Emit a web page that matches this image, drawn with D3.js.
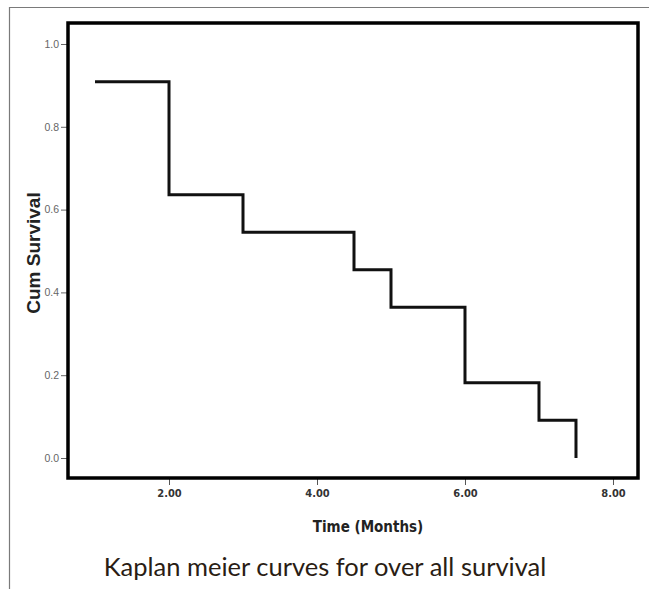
<!DOCTYPE html>
<html>
<head>
<meta charset="utf-8">
<script src="https://cdn.jsdelivr.net/npm/d3@7"></script>
<style>
  body { margin: 0; background: #fff; }
  svg { display: block; }
</style>
</head>
<body>
<div id="chart"></div>
<script>
// survival data
var times = [1, 2, 3, 4.5, 5, 6, 7, 7.5];
var survival = [0.909, 0.636, 0.545, 0.455, 0.364, 0.182, 0.091, 0];
var xTicks = [2, 4, 6, 8];
var yTicks = [0, 0.2, 0.4, 0.6, 0.8, 1.0];

var width = 649;
var height = 589;
var frame = {left: 68, top: 23, right: 638, bottom: 478};

var svg = d3.select('#chart').append('svg')
    .attr('width', width)
    .attr('height', height);

// thin outer border (left + top only)
svg.append('path')
    .attr('d', 'M9.5,589 L9.5,7.5 L649,7.5')
    .attr('fill', 'none')
    .attr('stroke', '#7a7a7a')
    .attr('stroke-width', 1.2);

var x = d3.scaleLinear()
    .domain([0.635, 8.338])
    .range([frame.left, frame.right]);

var y = d3.scaleLinear()
    .domain([-0.0483, 1.0507])
    .range([frame.bottom, frame.top]);

var xAxis = svg.append('g')
    .attr('transform', 'translate(0,' + frame.bottom + ')')
    .call(d3.axisBottom(x).tickValues(xTicks).tickFormat(d3.format('.2f')).tickSize(7).tickPadding(4));
xAxis.select('.domain').remove();
xAxis.selectAll('line').attr('stroke', '#555');
xAxis.selectAll('text')
    .attr('fill', '#333')
    .style('font-family', '"Liberation Sans Narrow", "DejaVu Sans Condensed", sans-serif')
    .style('font-weight', 'bold')
    .style('font-size', '11px');

var yAxis = svg.append('g')
    .attr('transform', 'translate(' + frame.left + ',0)')
    .call(d3.axisLeft(y).tickValues(yTicks).tickFormat(d3.format('.1f')).tickSize(7).tickPadding(2));
yAxis.select('.domain').remove();
yAxis.selectAll('line').attr('stroke', '#666');
yAxis.selectAll('text')
    .attr('fill', '#666')
    .style('font-family', '"Liberation Sans", Arial, sans-serif')
    .style('font-size', '10.5px');

// step curve
var pts = times.map(function(t, i) { return [t, survival[i]]; });
pts.push([times[times.length - 1], 0]);
var line = d3.line()
    .x(function(d) { return x(d[0]); })
    .y(function(d) { return y(d[1]); })
    .curve(d3.curveStepAfter);

svg.append('path')
    .datum(pts)
    .attr('d', line)
    .attr('fill', 'none')
    .attr('stroke', '#111')
    .attr('stroke-width', 3);

// plot frame
svg.append('rect')
    .attr('x', frame.left)
    .attr('y', frame.top)
    .attr('width', frame.right - frame.left)
    .attr('height', frame.bottom - frame.top)
    .attr('fill', 'none')
    .attr('stroke', '#000')
    .attr('stroke-width', 3.5);

svg.append('text')
    .attr('transform', 'translate(40,253) rotate(-90)')
    .attr('text-anchor', 'middle')
    .style('font-family', '"Liberation Sans", Arial, sans-serif')
    .style('font-weight', 'bold')
    .style('font-size', '19px')
    .attr('fill', '#222')
    .text('Cum Survival');

svg.append('text')
    .attr('x', 368)
    .attr('y', 532)
    .attr('text-anchor', 'middle')
    .style('font-family', '"Liberation Sans Narrow", "DejaVu Sans Condensed", sans-serif')
    .style('font-weight', 'bold')
    .style('font-size', '15px')
    .attr('fill', '#222')
    .text('Time (Months)');

svg.append('text')
    .attr('x', 325)
    .attr('y', 576)
    .attr('text-anchor', 'middle')
    .style('font-family', 'Lato, "Open Sans", sans-serif')
    .style('font-size', '25.5px')
    .attr('fill', '#2a1d14')
    .text('Kaplan meier curves for over all survival');
</script>
</body>
</html>
